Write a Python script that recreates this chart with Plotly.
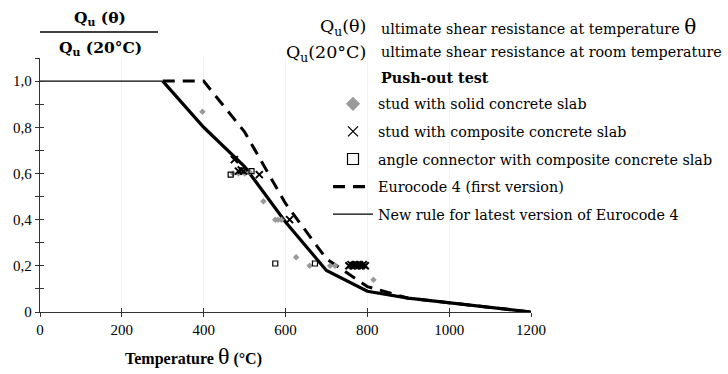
import plotly.graph_objects as go

# ---- data ----
temp_new = [0, 100, 200, 300, 400, 500, 600, 700, 800, 900, 1000, 1100, 1200]
k_new = [1.0, 1.0, 1.0, 1.0, 0.8, 0.63, 0.39, 0.18, 0.09, 0.06, 0.04, 0.02, 0.0]

temp_first = [300, 400, 500, 600, 700, 800, 900, 1000, 1100, 1200]
k_first = [1.0, 1.0, 0.78, 0.47, 0.23, 0.11, 0.06, 0.04, 0.02, 0.0]

solid_slab_t = [397, 472, 485, 500, 513, 546, 575, 582, 590, 626, 659, 709, 721, 815]
solid_slab_k = [0.867, 0.60, 0.60, 0.60, 0.605, 0.48, 0.40, 0.40, 0.40, 0.237, 0.20, 0.20, 0.20, 0.14]

comp_slab_t = [475, 485, 492, 498, 536, 610, 755, 760, 765, 770, 775, 780, 785, 790, 795]
comp_slab_k = [0.66, 0.61, 0.615, 0.61, 0.595, 0.40, 0.20, 0.205, 0.20, 0.205, 0.20, 0.205, 0.20, 0.205, 0.20]

angle_t = [466, 517, 575, 672]
angle_k = [0.595, 0.61, 0.21, 0.21]

x_ticks = [0, 200, 400, 600, 800, 1000, 1200]
x_ticklabels = ["0", "200", "400", "600", "800", "1000", "1200"]
y_ticks = [0, 0.2, 0.4, 0.6, 0.8, 1.0]
y_ticklabels = ["0", "0,2", "0,4", "0,6", "0,8", "1,0"]
y_minor_ticks = [0, 0.1, 0.2, 0.3, 0.4, 0.5, 0.6, 0.7, 0.8, 0.9, 1.0, 1.1]

FONT = "Liberation Serif"
TFONT = "DejaVu Serif"
TSIZE = 14.3
GRAY = "#9a9a9a"
W, H = 728, 374

fig = go.Figure()

# new rule: thin plateau, thick descending branch
fig.add_trace(go.Scatter(x=temp_new[:4], y=k_new[:4], mode="lines",
                         line=dict(color="black", width=1.3), showlegend=False, hoverinfo="skip"))
fig.add_trace(go.Scatter(x=temp_new[3:], y=k_new[3:], mode="lines",
                         line=dict(color="black", width=3.2), showlegend=False))
fig.add_trace(go.Scatter(x=temp_first, y=k_first, mode="lines",
                         line=dict(color="black", width=3, dash="12px,8px"), showlegend=False))

fig.add_trace(go.Scatter(x=solid_slab_t, y=solid_slab_k, mode="markers",
                         marker=dict(symbol="diamond", size=5, color=GRAY), showlegend=False))
fig.add_trace(go.Scatter(x=angle_t, y=angle_k, mode="markers",
                         marker=dict(symbol="square-open", size=5, color="black", line=dict(width=1.2)),
                         showlegend=False))
fig.add_trace(go.Scatter(x=comp_slab_t, y=comp_slab_k, mode="markers",
                         marker=dict(symbol="x-thin-open", size=7, color="black", line=dict(width=2)),
                         showlegend=False))

# legend-only entries
leg = [
    ("stud with solid concrete slab", dict(mode="markers", marker=dict(symbol="diamond", size=11, color=GRAY))),
    ("stud with composite concrete slab", dict(mode="markers", marker=dict(symbol="x-thin-open", size=10, color="black", line=dict(width=1.3)))),
    ("angle connector with composite concrete slab", dict(mode="markers", marker=dict(symbol="square-open", size=11, color="black", line=dict(width=1.2)))),
    ("Eurocode 4 (first version)", dict(mode="lines", line=dict(color="black", width=3.2, dash="12px,8px"))),
    ("New rule for latest version of Eurocode 4", dict(mode="lines", line=dict(color="black", width=1.2))),
]
for i, (name, kw) in enumerate(leg):
    fig.add_trace(go.Scatter(x=[None], y=[None], name=name, legendgroup=f"g{i}", showlegend=True, **kw))


def px_x(X):
    return (X - 40) / 491.0


def px_y(Y):
    return (312 - Y) / 254.0


def note(text, X, Y, xanchor="left", family=TFONT, size=TSIZE):
    return dict(text=text, x=px_x(X), y=px_y(Y), xref="paper", yref="paper", showarrow=False,
                font=dict(family=family, size=size, color="black"), xanchor=xanchor, yanchor="middle")


ann = [
    note("<b>Q<sub>u</sub> (θ)</b>", 100, 18, "center", TFONT, 15.5),
    note("<b>Q<sub>u</sub> (20°C)</b>", 100, 48, "center", TFONT, 15.5),
    note("<b>Temperature</b> <span style='font-size:24px'>θ</span> <b>(°C)</b>", 193, 356, "center", FONT, 16),
    note("Q<sub>u</sub>(θ)", 368, 28, "right", TFONT, 17.5),
    note("ultimate shear resistance at temperature <span style='font-size:20px'>θ</span>", 379, 27),
    note("Q<sub>u</sub>(20°C)", 368, 53, "right", TFONT, 17.5),
    note("ultimate shear resistance at room temperature", 379, 52),
    note("<b>Push-out test</b>", 379, 78),
]

shapes = [dict(type="line", xref="paper", yref="paper", x0=0, x1=px_x(158), y0=px_y(32), y1=px_y(32),
               line=dict(color="black", width=1.3))]

axis_common = dict(showline=True, linecolor="#333333", linewidth=1.3, zeroline=False,
                   tickcolor="#333333", ticklen=4, tickwidth=1.3,
                   tickfont=dict(family=FONT, size=15, color="black"))

fig.update_layout(
    width=W, height=H,
    margin=dict(l=40, r=197, t=58, b=62, autoexpand=False),
    paper_bgcolor="white", plot_bgcolor="white",
    font=dict(family=FONT, size=15, color="black"),
    annotations=ann, shapes=shapes,
    xaxis=dict(range=[0, 1200], tickvals=x_ticks, ticktext=x_ticklabels, ticks="outside",
               showgrid=True, gridcolor="#f3f3f3", gridwidth=1, **axis_common),
    yaxis=dict(range=[0, 1.1], tickvals=y_ticks, ticktext=y_ticklabels, ticks="outside",
               showgrid=False, minor=dict(dtick=0.1, tick0=0, ticks="outside", ticklen=4, tickcolor="#333333", tickwidth=1.3),
               **axis_common),
    xaxis2=dict(range=[0, 1200], overlaying="x", anchor="y", tickvals=x_ticks, ticks="inside",
                showticklabels=False, showgrid=False, showline=False, zeroline=False,
                tickcolor="#333333", ticklen=4, tickwidth=1.3),
    yaxis2=dict(range=[0, 1.1], overlaying="y", anchor="x", tickvals=y_minor_ticks,
                ticks="inside", showticklabels=False, showgrid=False, showline=False, zeroline=False,
                tickcolor="#333333", ticklen=4, tickwidth=1.3),
    legend=dict(xref="container", yref="container", x=328 / W, y=1 - 88 / H, xanchor="left", yanchor="top",
                traceorder="grouped", tracegroupgap=6, bgcolor="rgba(0,0,0,0)",
                font=dict(family=TFONT, size=TSIZE, color="black"),
                itemsizing="trace", borderwidth=0, itemwidth=40),
    showlegend=True,
)
# invisible trace to activate the secondary axes
fig.add_trace(go.Scatter(x=[None], y=[None], xaxis="x2", yaxis="y2", showlegend=False, hoverinfo="skip"))

fig.write_html("out.html")
